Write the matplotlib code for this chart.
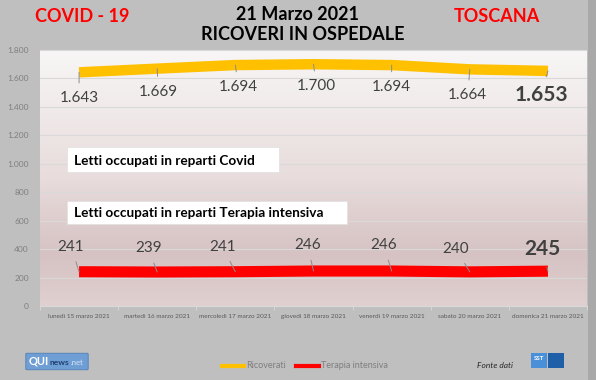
import matplotlib.pyplot as plt
import numpy as np
from matplotlib.patches import FancyBboxPatch, Rectangle
from matplotlib.colors import LinearSegmentedColormap

# dati
giorni = ['lunedì 15 marzo 2021', 'martedì 16 marzo 2021', 'mercoledì 17 marzo 2021',
          'giovedì 18 marzo 2021', 'venerdì 19 marzo 2021', 'sabato 20 marzo 2021',
          'domenica 21 marzo 2021']
ricoverati = [1643, 1669, 1694, 1700, 1694, 1664, 1653]
terapia_intensiva = [241, 239, 241, 246, 246, 240, 245]
etichette_ric = ['1.643', '1.669', '1.694', '1.700', '1.694', '1.664', '1.653']
etichette_ti = ['241', '239', '241', '246', '246', '240', '245']
yticks = [0, 200, 400, 600, 800, 1000, 1200, 1400, 1600, 1800]
ytick_labels = ['0', '200', '400', '600', '800', '1.000', '1.200', '1.400', '1.600', '1.800']

# offset delle etichette (pixel)
off_ric = [(0, -26), (1, -23), (3, -22), (3, -22), (0, -22), (-2, -26), (-7, -24)]
off_ti = [(-8, 25), (-9, 24), (-13, 25), (-6, 26), (-8, 26), (-14, 23), (-6, 22)]

plt.rcParams['font.family'] = ['Lato', 'DejaVu Sans']

W, H = 596, 380
fig = plt.figure(figsize=(W / 100, H / 100), dpi=100)
fig.patch.set_facecolor('#bfbfbf')

# striscia scura a destra
fig.patches.append(Rectangle((588 / W, 0), 8 / W, 1, transform=fig.transFigure,
                             facecolor='#a9a9a9', edgecolor='none', zorder=0))

ax = fig.add_axes([40 / W, 74 / H, 547 / W, 256 / H])
x = np.arange(len(giorni))
ax.set_xlim(-0.5, len(giorni) - 0.5)
ax.set_ylim(0, 1800)

# sfondo sfumato
cmap = LinearSegmentedColormap.from_list('sf', [(0, '#f8f6f6'), (0.5, '#e8dcdc'),
                                                 (0.8, '#d6c2c2'), (1, '#e0d0d0')])
grad = np.linspace(0, 1, 256).reshape(-1, 1)
ax.imshow(grad, cmap=cmap, aspect='auto', extent=[0, 1, 0, 1], transform=ax.transAxes,
          zorder=0)

ax.set_yticks(yticks)
ax.set_yticklabels(ytick_labels)
ax.grid(axis='y', color='#d9d9d9', linewidth=0.8, zorder=1)
ax.set_xticks(x)
ax.set_xticklabels(giorni, fontsize=4.6, color='#595959')
ax.tick_params(axis='x', length=0, pad=6)
ax.set_xticks(np.arange(-0.5, len(giorni), 1), minor=True)
ax.tick_params(axis='x', which='minor', length=3, color='#d9d9d9')
ax.tick_params(axis='y', length=0, labelsize=6, labelcolor='#7f7f7f', pad=8)
for s in ['top', 'right', 'left']:
    ax.spines[s].set_visible(False)
ax.spines['bottom'].set_color('#d9d9d9')

ax.plot(x, ricoverati, color='#ffc000', linewidth=7.5, solid_capstyle='butt', zorder=3)
ax.plot(x, terapia_intensiva, color='#ff0000', linewidth=8, solid_capstyle='butt', zorder=3)

for i in range(len(giorni)):
    big = i == len(giorni) - 1
    ax.annotate(etichette_ric[i], (x[i], ricoverati[i]), xytext=off_ric[i],
                textcoords='offset pixels', ha='center', va='center',
                fontsize=15 if big else 11, fontweight='bold' if big else 'normal',
                color='#404040', zorder=4,
                arrowprops=dict(arrowstyle='-', color='#8c8c8c', lw=0.7,
                                shrinkA=4, shrinkB=0))
    ax.annotate(etichette_ti[i], (x[i], terapia_intensiva[i]), xytext=off_ti[i],
                textcoords='offset pixels', ha='center', va='center',
                fontsize=15 if big else 11, fontweight='bold' if big else 'normal',
                color='#404040', zorder=4,
                arrowprops=dict(arrowstyle='-', color='#8c8c8c', lw=0.7,
                                shrinkA=4, shrinkB=0))

# riquadri di testo
def riquadro(x0, y0, x1, y1, ty, testo):
    fig.patches.append(Rectangle((x0 / W, 1 - y1 / H), (x1 - x0) / W, (y1 - y0) / H,
                                 transform=fig.transFigure, facecolor='white',
                                 edgecolor='#e0e0e0', linewidth=0.5, zorder=5))
    fig.text(74 / W, 1 - ty / H, testo, fontsize=9.8, fontweight='bold',
             color='black', va='center', ha='left', zorder=6)

riquadro(67, 147, 279, 172, 161, 'Letti occupati in reparti Covid')
riquadro(67, 201, 347, 224, 213, 'Letti occupati in reparti Terapia intensiva')

# titoli
fig.text(298 / W, 1 - 14 / H, '21 Marzo 2021', fontsize=13, fontweight='bold',
         ha='center', va='center', color='black')
fig.text(303 / W, 1 - 35 / H, 'RICOVERI IN OSPEDALE', fontsize=13, fontweight='bold',
         ha='center', va='center', color='black')
fig.text(82 / W, 1 - 16 / H, 'COVID - 19', fontsize=13, fontweight='bold',
         ha='center', va='center', color='#ff0000')
fig.text(497 / W, 1 - 16 / H, 'TOSCANA', fontsize=13, fontweight='bold',
         ha='center', va='center', color='#ff0000')

# legenda
ly = 1 - 366 / H
fig.lines.append(plt.Line2D([222 / W, 244 / W], [ly, ly], transform=fig.transFigure,
                            color='#ffc000', linewidth=3))
fig.text(246 / W, ly, 'Ricoverati', fontsize=6.5, color='#7f7f7f', va='center')
fig.lines.append(plt.Line2D([296 / W, 319 / W], [ly, ly], transform=fig.transFigure,
                            color='#ff0000', linewidth=3))
fig.text(321 / W, ly, 'Terapia intensiva', fontsize=6.5, color='#7f7f7f', va='center')

# loghi
fig.patches.append(FancyBboxPatch((27 / W, 1 - 369 / H), 60 / W, 15 / H,
                                  boxstyle='round,pad=0.002', transform=fig.transFigure,
                                  facecolor='#6f9ed4', edgecolor='#4f7fb8', linewidth=0.6))
fig.text(29 / W, 1 - 361.5 / H, 'QUI', fontsize=8, fontweight='bold', color='white',
         va='center')
fig.text(50 / W, 1 - 362.5 / H, 'news', fontsize=6, fontweight='bold', color='#1f3f6f',
         va='center')
fig.text(71 / W, 1 - 362.5 / H, '.net', fontsize=5.5, color='#d8e6f5', va='center')

fig.text(477 / W, 1 - 366 / H, 'Fonte dati', fontsize=6, style='italic', color='#262626',
         va='center')
fig.patches.append(Rectangle((531 / W, 1 - 368 / H), 16 / W, 15 / H,
                             transform=fig.transFigure, facecolor='#4a90d9',
                             edgecolor='none'))
fig.patches.append(Rectangle((548 / W, 1 - 368 / H), 16 / W, 15 / H,
                             transform=fig.transFigure, facecolor='#1f5fa8',
                             edgecolor='none'))
fig.text(539 / W, 1 - 358 / H, 'SST', fontsize=4.5, fontweight='bold', color='white',
         ha='center', va='center')

fig.savefig('out.png', dpi=100, facecolor=fig.get_facecolor())
